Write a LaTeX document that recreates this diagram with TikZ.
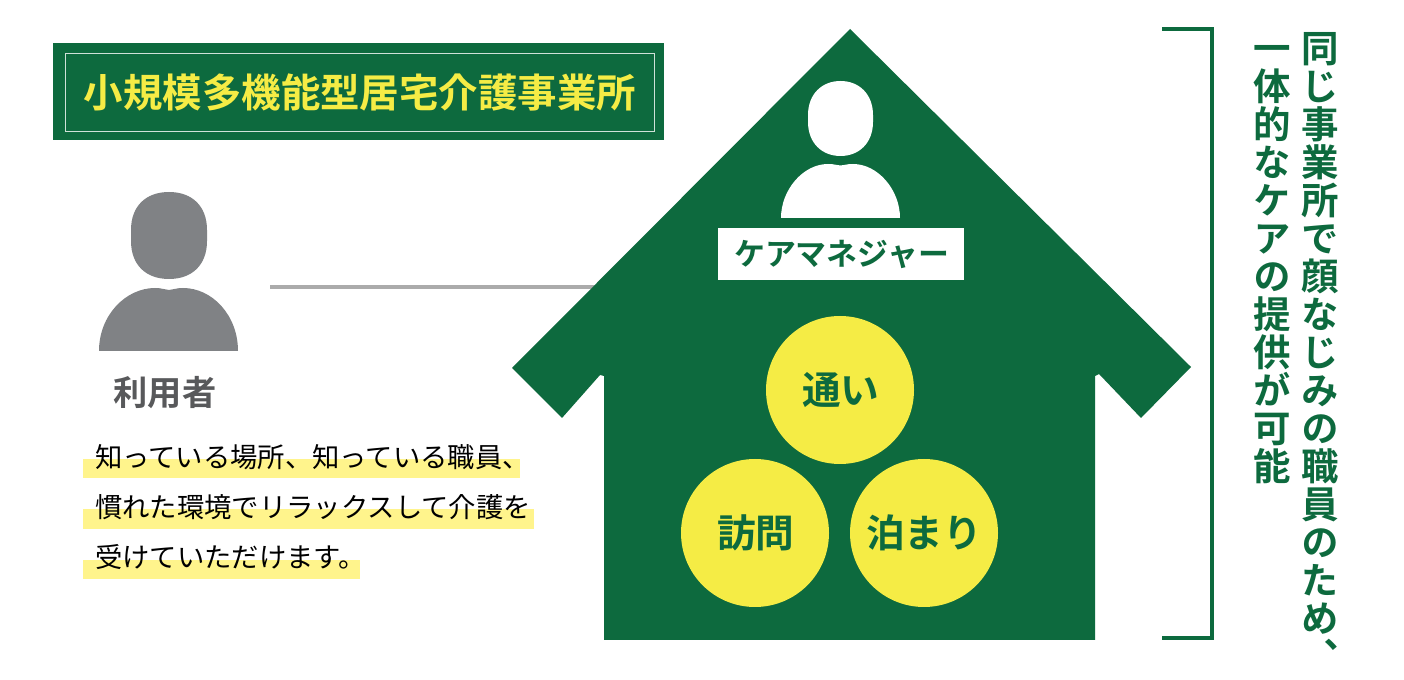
\documentclass[tikz,border=0pt]{standalone}
\usepackage{fontspec}
\setmainfont{Noto Sans CJK JP}[BoldFont={* Bold}]
\newfontfamily\vfont{Noto Sans CJK JP}[RawFeature=+vert,BoldFont={* Bold}]
\definecolor{housegreen}{HTML}{0D6A3E}
\definecolor{disc}{HTML}{F5EC45}
\definecolor{mark}{HTML}{FFF48C}
\definecolor{persongrey}{HTML}{808285}
\definecolor{labelgrey}{HTML}{58595B}
\definecolor{linegrey}{HTML}{ABABAB}
\newcommand{\vcell}{\rule{0pt}{0.88em}}
\tikzset{
  x=0.75pt,y=-0.75pt,
  discnode/.style={circle,fill=disc,minimum size=111pt,inner sep=0pt,text=housegreen,font=\fontsize{29}{30}\selectfont\bfseries},
  bodyline/.style={anchor=west,inner sep=0pt,text=black,font=\fontsize{20.5}{24}\selectfont},
  markbar/.style={fill=mark,draw=none},
  vertline/.style={anchor=north,inner sep=0pt,align=center,text=housegreen,font=\vfont\fontsize{28.1}{28.5}\selectfont\bfseries},
}
\begin{document}
\begin{tikzpicture}
\useasboundingbox (0,0) rectangle (1404,680);
\fill[white] (0,0) rectangle (1404,680);
% title
\fill[housegreen] (53,43) rectangle (664,140);
\draw[white!80!housegreen,line width=0.5pt] (65,53) rectangle (654,131);
\node[inner sep=0pt,text=disc,font=\fontsize{29.6}{32}\selectfont\bfseries] (title) at (360,92) {小規模多機能型居宅介護事業所};
% connector
\coordinate (lineA) at (270,287);
\coordinate (lineB) at (620,287);
\draw[linegrey,line width=2.4pt] (lineA) -- (lineB);
% user
\fill[persongrey] (131,230) .. controls (131,206) and (146,192) .. (169,192) .. controls (192,192) and (207,206) .. (207,230) -- (207,241) .. controls (207,265) and (192,279) .. (169,279) .. controls (146,279) and (131,265) .. (131,241) -- cycle;
\fill[persongrey] (99,351) .. controls (99,315) and (126,288) .. (155,288) .. controls (163,288) and (165,290) .. (169,290) .. controls (173,290) and (175,288) .. (183,288) .. controls (212,288) and (238,315) .. (238,351) -- cycle;
\node[inner sep=0pt,text=labelgrey,font=\fontsize{25.7}{28}\selectfont\bfseries] (user) at (165,393) {利用者};
% highlights
\fill[markbar] (83,459) rectangle (520,478);
\fill[markbar] (83,509) rectangle (534,529);
\fill[markbar] (83,560) rectangle (360,579);
\node[bodyline] (l1) at (95,457) {知っている場所、知っている職員、};
\node[bodyline] (l2) at (95,507) {慣れた環境でリラックスして介護を};
\node[bodyline] (l3) at (95,557) {受けていただけます。};
% house
\fill[housegreen] (850,29) -- (1191,367) -- (1141,418) -- (1099,374) -- (1095,376) -- (1095,640) -- (604,640) -- (604,376) -- (600,375) -- (562,418) -- (512,368) -- cycle;
% manager
\fill[white] (808,115) .. controls (808,94) and (822,81) .. (840.5,81) .. controls (859,81) and (873,94) .. (873,115) -- (873,122) .. controls (873,143) and (859,156) .. (840.5,156) .. controls (822,156) and (808,143) .. (808,122) -- cycle;
\fill[white] (781,218) .. controls (781,190) and (803,164) .. (828,164) .. controls (835,164) and (837,165.5) .. (840.5,165.5) .. controls (844,165.5) and (846,164) .. (853,164) .. controls (878,164) and (900,190) .. (900,218) -- cycle;
\node[fill=white,minimum width=184.9pt,minimum height=39pt,inner sep=0pt,text=housegreen,font=\fontsize{23.2}{25}\selectfont\bfseries] (cm) at (840.8,254) {\hspace{1.2pt}ケアマネジャー};
% circles
\node[discnode] (kayoi) at (840,390) {\hspace{1pt}通い};
\node[discnode] (houmon) at (755,533) {\hspace{1pt}訪問};
\node[discnode] (tomari) at (924,533) {泊まり};
% bracket
\coordinate (brA) at (1162,29);
\coordinate (brB) at (1212,29);
\coordinate (brC) at (1212,638);
\coordinate (brD) at (1162,638);
\draw[housegreen,line width=2.8pt] (brA) -- (brB) -- (brC) -- (brD);
% vertical text
\node[vertline] (v1) at (1320,29.3) {\vcell 同\\じ\\事\\業\\所\\で\\顔\\な\\じ\\み\\の\\職\\員\\の\\た\\め\\、};
\node[vertline] (v2) at (1272,29.3) {\vcell 一\\体\\的\\な\\ケ\\ア\\の\\提\\供\\が\\可\\能};
\end{tikzpicture}
\end{document}
